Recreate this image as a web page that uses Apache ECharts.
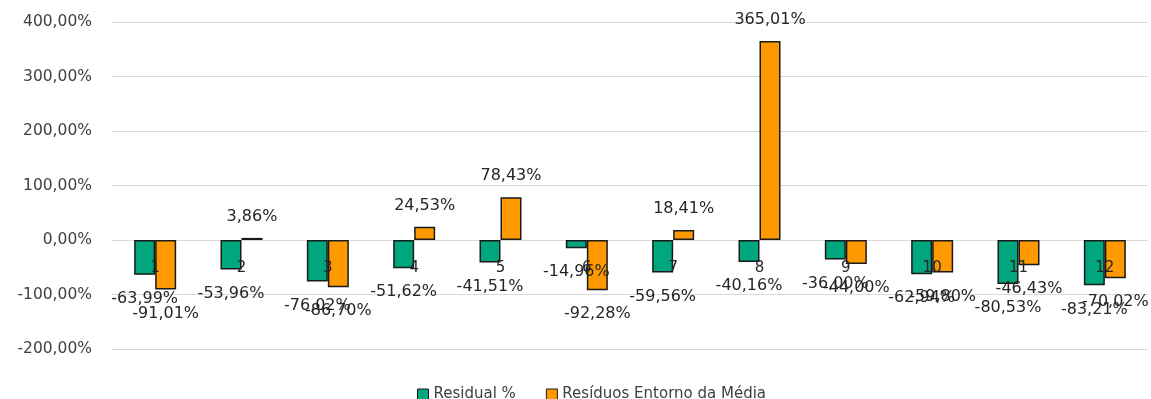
<!DOCTYPE html>
<html>
<head>
<meta charset="utf-8">
<script src="https://cdn.jsdelivr.net/npm/echarts@6/dist/echarts.min.js"></script>
<style>
  html, body { margin: 0; padding: 0; background: #fff; }
  #chart { width: 1151px; height: 399px; }
</style>
</head>
<body>
<div id="chart"></div>
<script>
// Months 1..12
const categories = ['1', '2', '3', '4', '5', '6', '7', '8', '9', '10', '11', '12'];
// Values in percent
const residual = [-63.99, -53.96, -76.02, -51.62, -41.51, -14.96, -59.56, -40.16, -36.00, -62.94, -80.53, -83.21];
const residuosMedia = [-91.01, 3.86, -86.70, 24.53, 78.43, -92.28, 18.41, 365.01, -44.00, -59.80, -46.43, -70.02];
const yTicks = { min: -200, max: 400, interval: 100 };

const fmt = v => v.toFixed(2).replace('.', ',') + '%';
const FONT = '"DejaVu Sans", sans-serif';

// Labels sit outside the bar end: below for negatives, above for positives
function toData(values) {
  return values.map(v => ({
    value: v,
    label: v < 0 ? { position: 'bottom', distance: 16 } : { position: 'top', distance: 13 }
  }));
}

function barSeries(name, values, color) {
  return {
    name: name,
    type: 'bar',
    data: toData(values),
    barWidth: 21,
    barGap: '0%',
    itemStyle: { color: color, borderColor: '#1a1a1a', borderWidth: 1.5 },
    label: {
      show: true,
      fontFamily: FONT,
      fontSize: 16,
      color: '#262626',
      formatter: p => fmt(p.value)
    }
  };
}

const chart = echarts.init(document.getElementById('chart'));
chart.setOption({
  animation: false,
  grid: { left: 112, right: 3, top: 22, bottom: 50, containLabel: false },
  legend: {
    top: 387,
    left: 417,
    padding: 0,
    icon: 'rect',
    itemWidth: 11,
    itemHeight: 11,
    itemGap: 30,
    itemStyle: { borderColor: '#1a1a1a', borderWidth: 1 },
    textStyle: { fontFamily: FONT, fontSize: 15, color: '#404040' },
    data: ['Residual %', 'Resíduos Entorno da Média']
  },
  xAxis: {
    type: 'category',
    data: categories,
    z: 10,
    axisLine: { show: false },
    axisTick: { show: false },
    // category labels sit just under the zero line, over the bars
    axisLabel: {
      interval: 0,
      margin: -88,
      fontFamily: FONT,
      fontSize: 15,
      color: '#262626'
    }
  },
  yAxis: {
    type: 'value',
    min: yTicks.min,
    max: yTicks.max,
    interval: yTicks.interval,
    axisLine: { show: false },
    axisTick: { show: false },
    splitLine: { lineStyle: { color: '#d9d9d9', width: 1 } },
    axisLabel: {
      margin: 20,
      fontFamily: FONT,
      fontSize: 15.5,
      color: '#404040',
      formatter: v => fmt(v)
    }
  },
  series: [
    barSeries('Residual %', residual, '#00a67e'),
    barSeries('Resíduos Entorno da Média', residuosMedia, '#ff9900')
  ]
});
</script>
</body>
</html>
